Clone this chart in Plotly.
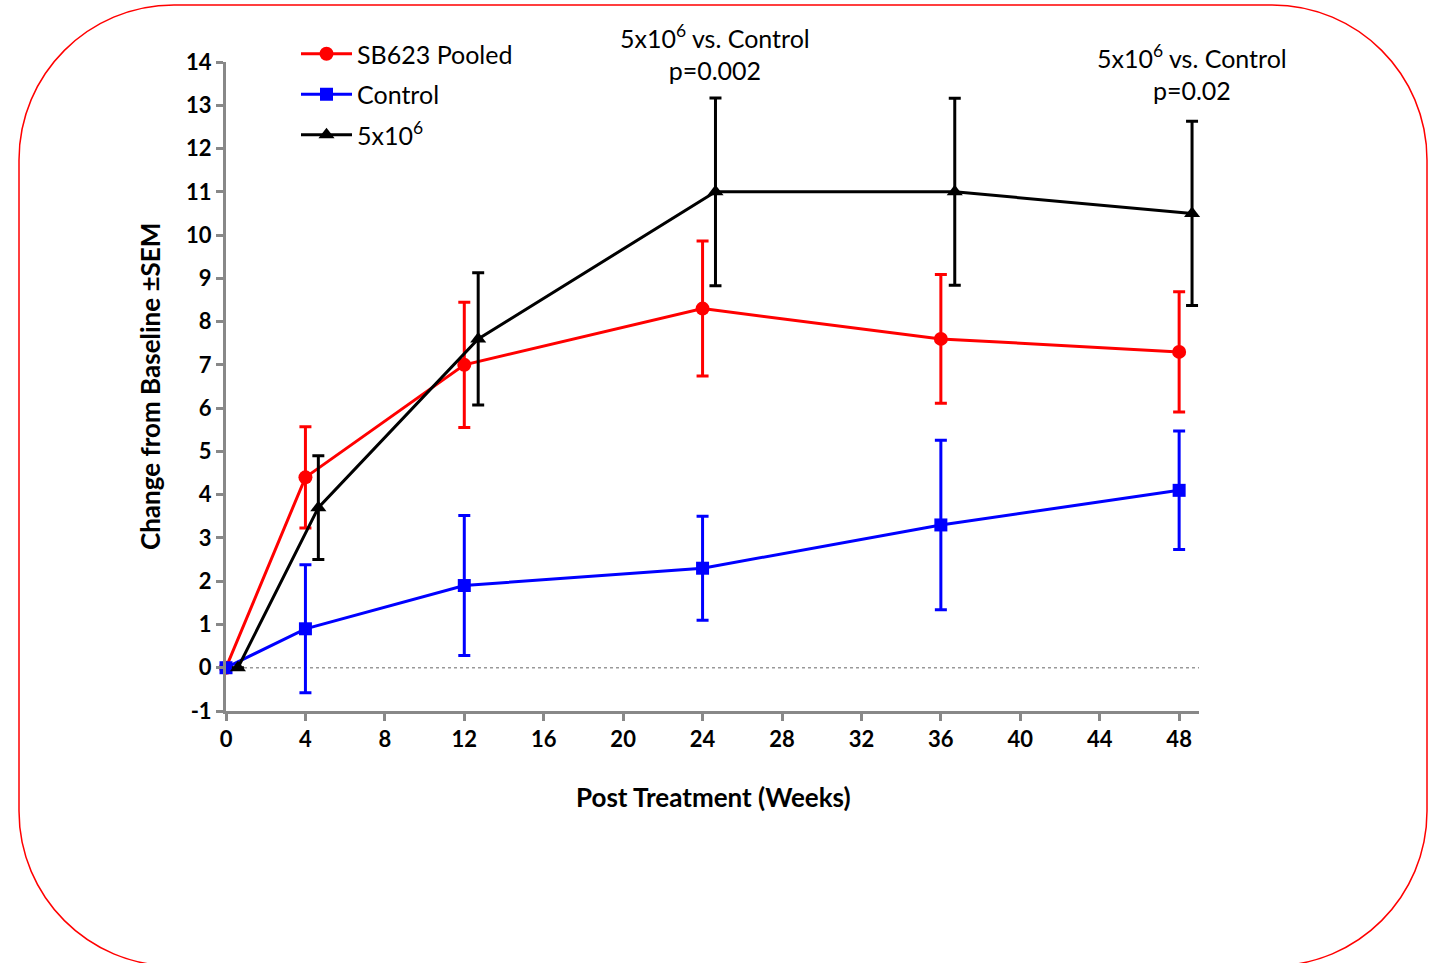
import plotly.graph_objects as go

# ---------------- data ----------------
weeks = [0, 4, 12, 24, 36, 48]
weeks_5x = [0.6, 4.65, 12.7, 24.65, 36.7, 48.65]   # plotted slightly offset, as in the original

sb623_mean = [0, 4.4, 7.0, 8.3, 7.6, 7.3]
sb623_sem = [0, 1.17, 1.45, 1.56, 1.49, 1.39]

control_mean = [0, 0.9, 1.9, 2.3, 3.3, 4.1]
control_sem = [0, 1.48, 1.62, 1.20, 1.96, 1.37]

dose_mean = [0, 3.7, 7.6, 11.0, 11.0, 10.5]
dose_sem = [0, 1.2, 1.53, 2.17, 2.16, 2.13]

x_ticks = list(range(0, 49, 4))
y_ticks = list(range(-1, 15))

ann_texts = ["5x10<sup>6</sup> vs. Control<br>p=0.002",
             "5x10<sup>6</sup> vs. Control<br>p=0.02"]
ann_index = [3, 5]

# ---------------- layout geometry ----------------
W, H = 1435, 963
L, R, T, B = 226, 236, 62, 252
PW, PH = W - L - R, H - T - B


def px(xp):
    return (xp - L) / PW


def py(yp):
    return (H - B - yp) / PH


FONT = "Lato, 'Open Sans', sans-serif"

fig = go.Figure()


def add_series(x, y, err, name, color, symbol, size, group):
    fig.add_trace(go.Scatter(
        x=x, y=y, name=name, mode="lines+markers", legendgroup=group,
        line=dict(color=color, width=3),
        marker=dict(color=color, symbol=symbol, size=size),
        error_y=dict(type="data", array=err, visible=True,
                     color=color, thickness=3, width=6),
        cliponaxis=False,
    ))


add_series(weeks, sb623_mean, sb623_sem, "SB623 Pooled", "#ff0000", "circle", 14, "a")
add_series(weeks, control_mean, control_sem, "Control", "#0000ff", "square", 13, "b")
add_series(weeks_5x, dose_mean, dose_sem, "5x10<sup>6</sup>", "#000000", "triangle-up", 14, "c")

# dotted zero line
fig.add_shape(type="line", xref="x", yref="y", x0=0, x1=49, y0=0, y1=0,
              line=dict(color="#999999", width=1.5, dash="dot"), layer="below")

# rounded red frame (decoration), built in pixel space then mapped to paper
x0, x1, y0, y1, r = 19, 1427, 5, 966, 155
k = 0.5523 * r


def P(a, b):
    return f"{px(a):.5f},{py(b):.5f}"


path = (
    f"M {P(x0 + r, y0)} L {P(x1 - r, y0)} "
    f"C {P(x1 - r + k, y0)} {P(x1, y0 + r - k)} {P(x1, y0 + r)} "
    f"L {P(x1, y1 - r)} "
    f"C {P(x1, y1 - r + k)} {P(x1 - r + k, y1)} {P(x1 - r, y1)} "
    f"L {P(x0 + r, y1)} "
    f"C {P(x0 + r - k, y1)} {P(x0, y1 - r + k)} {P(x0, y1 - r)} "
    f"L {P(x0, y0 + r)} "
    f"C {P(x0, y0 + r - k)} {P(x0 + r - k, y0)} {P(x0 + r, y0)} Z"
)
fig.add_shape(type="path", xref="paper", yref="paper", path=path,
              line=dict(color="#ff0000", width=1.5), layer="below")

# significance annotations
ann_y = [52, 72]
for txt, idx, yy in zip(ann_texts, ann_index, ann_y):
    fig.add_annotation(x=weeks_5x[idx], xref="x", y=py(yy), yref="paper",
                       text=txt, showarrow=False, xanchor="center", yanchor="middle",
                       font=dict(family=FONT, size=25, color="black"))

# axis titles
fig.add_annotation(x=px(713), y=py(797), xref="paper", yref="paper",
                   xanchor="center", yanchor="middle",
                   text="<b>Post Treatment (Weeks)</b>", showarrow=False,
                   font=dict(family=FONT, size=26, color="black"))
fig.add_annotation(x=px(150), y=py(387), xref="paper", yref="paper",
                   xanchor="center", yanchor="middle",
                   text="<b>Change from Baseline ±SEM</b>", showarrow=False, textangle=-90,
                   font=dict(family=FONT, size=26, color="black"))

axis_common = dict(showgrid=False, zeroline=False, showline=True,
                   linecolor="#888888", linewidth=3, ticks="outside",
                   ticklen=7, tickwidth=3, tickcolor="#888888",
                   tickfont=dict(family=FONT, size=22, color="black"))

fig.update_layout(
    width=W, height=H,
    margin=dict(l=L, r=R, t=T, b=B),
    paper_bgcolor="white", plot_bgcolor="white",
    xaxis=dict(range=[0, 49], tickvals=x_ticks,
               ticktext=[f"<b>{v}</b>" for v in x_ticks], **axis_common),
    yaxis=dict(range=[-1, 14], tickvals=y_ticks,
               ticktext=[f"<b>{v}</b>" for v in y_ticks], **axis_common),
    legend=dict(x=px(296), y=py(31), xanchor="left", yanchor="top",
                bgcolor="rgba(0,0,0,0)", font=dict(family=FONT, size=25, color="black"),
                itemwidth=51, tracegroupgap=5),
    showlegend=True,
)

fig.write_html("out.html", config={"displayModeBar": False},
               post_script="document.body.style.margin='0px';")
